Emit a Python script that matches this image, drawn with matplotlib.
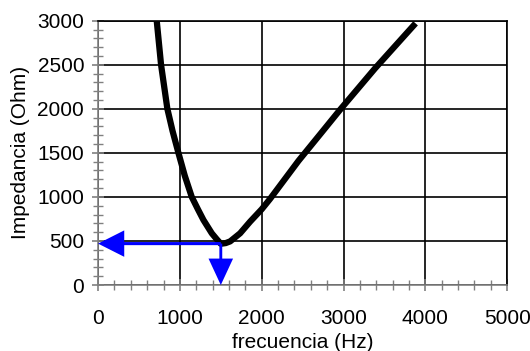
import numpy as np
import matplotlib
matplotlib.use("Agg")
import matplotlib.pyplot as plt
from matplotlib.ticker import MultipleLocator

# valores: impedancia vs frecuencia
frecuencia = [700, 717, 770, 847, 910, 982, 1060, 1145, 1220, 1288, 1390, 1450,
              1500, 1560, 1614, 1736, 1858, 2000, 2100, 2450, 2735, 2958, 3386, 3880]
impedancia = [3150, 3000, 2500, 2000, 1750, 1500, 1240, 1000, 860, 738, 587, 520,
              468, 476, 495, 587, 719, 860, 975, 1410, 1735, 1990, 2460, 2970]

# punto de resonancia (flechas azules)
f_res = 1500
z_res = 470

plt.rcParams['font.family'] = ['Liberation Sans', 'DejaVu Sans']

fig = plt.figure(figsize=(5.30, 3.51), dpi=100)
ax = fig.add_axes([0.185, 0.188, 0.772, 0.753])

ax.plot(frecuencia, impedancia, color='black', lw=4.5, solid_capstyle='butt',
        solid_joinstyle='round', zorder=3)

# flechas
ax.arrow(f_res, z_res, -f_res, 0, color='#0000FF', width=35, head_width=300,
         head_length=320, length_includes_head=True, zorder=4, lw=0)
ax.arrow(f_res, z_res, 0, -z_res, color='#0000FF', width=35, head_width=300,
         head_length=300, length_includes_head=True, zorder=4, lw=0)

ax.set_xlim(0, 5000)
ax.set_ylim(0, 3000)
ax.xaxis.set_major_locator(MultipleLocator(1000))
ax.xaxis.set_minor_locator(MultipleLocator(200))
ax.yaxis.set_major_locator(MultipleLocator(500))
ax.yaxis.set_minor_locator(MultipleLocator(100))

ax.grid(True, which='major', color='black', lw=1.2)
ax.set_axisbelow(True)

for s in ['left', 'bottom']:
    ax.spines[s].set_color('#808080')
    ax.spines[s].set_linewidth(1.2)
for s in ['top', 'right']:
    ax.spines[s].set_color('black')
    ax.spines[s].set_linewidth(1.2)

ax.tick_params(which='major', direction='inout', length=8, width=1.2, color='#808080',
               labelsize=15, pad=6)
ax.tick_params(which='minor', direction='inout', length=7, width=1.0, color='#808080')
ax.tick_params(axis='x', which='major', pad=13)

ax.set_xlabel('frecuencia (Hz)', fontsize=15, labelpad=4)
ax.set_ylabel('Impedancia (Ohm)', fontsize=15, labelpad=5)

fig.savefig('out.png', dpi=100)
